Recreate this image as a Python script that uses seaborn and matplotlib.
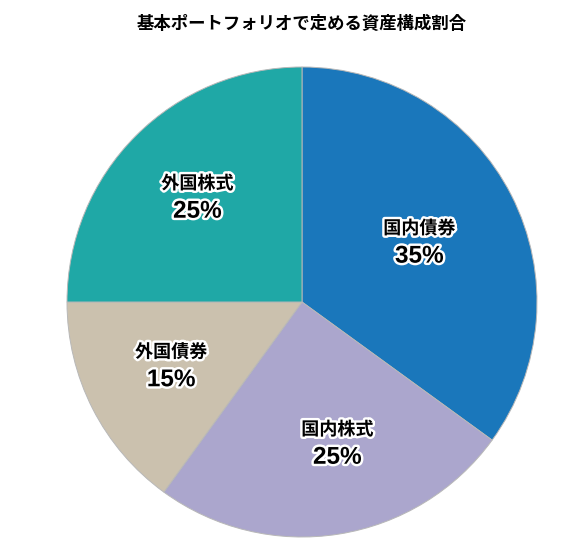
import numpy as np
import matplotlib
matplotlib.use("Agg")
import matplotlib.pyplot as plt
import matplotlib.patheffects as pe
import seaborn as sns

categories = ["国内債券", "国内株式", "外国債券", "外国株式"]
shares = [35, 25, 15, 25]
colors = ["#1a77bb", "#aba6cd", "#cbc1ae", "#1fa8a6"]
title = "基本ポートフォリオで定める資産構成割合"

sns.set_theme(style="white")
plt.rcParams["font.family"] = ["Noto Sans CJK JP", "DejaVu Sans"]

W, H = 567, 551
fig = plt.figure(figsize=(W / 100, H / 100), dpi=100)
cx, cy, R = 302, 302, 235
ax = fig.add_axes([(cx - R) / W, (H - cy - R) / H, 2 * R / W, 2 * R / H])

wedges, _ = ax.pie(shares, colors=colors, startangle=90, counterclock=False,
                   radius=1.0, wedgeprops=dict(edgecolor="#b8b8b8", linewidth=0.7))
ax.set_xlim(-1, 1)
ax.set_ylim(-1, 1)
ax.set_aspect("equal")
ax.axis("off")

stroke = [pe.withStroke(linewidth=3.5, foreground="white")]
# label placement: distance from centre (fraction of radius), angle tweak (deg)
dists = [0.56, 0.62, 0.62, 0.63]
ang_tweak = [0, 5, -1, 0]
for w, cat, s, d, t in zip(wedges, categories, shares, dists, ang_tweak):
    ang = np.deg2rad((w.theta1 + w.theta2) / 2 + t)
    x, y = d * np.cos(ang), d * np.sin(ang)
    ax.annotate(cat, (x, y), xytext=(0, 10), textcoords="offset points",
                ha="center", va="center", fontsize=13, fontweight="bold",
                color="black", path_effects=stroke)
    ax.annotate(f"{s}%", (x, y), xytext=(0, -10), textcoords="offset points",
                ha="center", va="center", fontsize=17.5, fontweight="bold",
                family=["Liberation Sans", "Noto Sans CJK JP"],
                color="black", path_effects=stroke)

fig.text(cx / W, 1 - 24 / H, title, ha="center", va="center",
         fontsize=12.5, fontweight="bold", color="black")

fig.savefig("out.png", dpi=100)
